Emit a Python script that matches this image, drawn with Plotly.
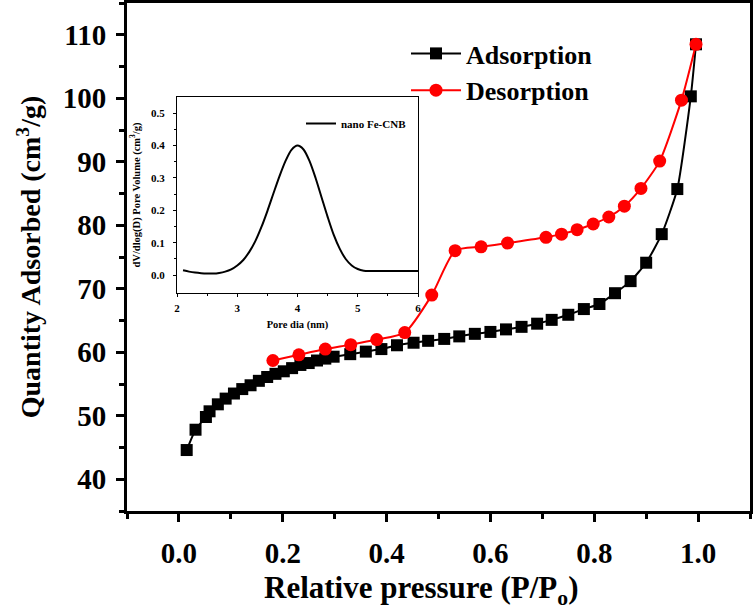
import plotly.graph_objects as go

# Main isotherm data
ads_p = [0.015, 0.032, 0.052, 0.059, 0.075, 0.090, 0.106, 0.122, 0.138, 0.154, 0.170, 0.186,
         0.202, 0.218, 0.234, 0.250, 0.266, 0.282, 0.298, 0.330, 0.360, 0.390, 0.420, 0.452,
         0.480, 0.511, 0.540, 0.570, 0.600, 0.630, 0.660, 0.690, 0.718, 0.750, 0.780, 0.810,
         0.840, 0.870, 0.900, 0.930, 0.960, 0.986, 0.996]
ads_q = [44.6, 47.8, 49.8, 50.7, 51.8, 52.7, 53.5, 54.2, 54.8, 55.5, 56.1, 56.6,
         57.0, 57.5, 58.0, 58.3, 58.7, 59.0, 59.3, 59.7, 60.1, 60.5, 61.1, 61.5,
         61.8, 62.1, 62.5, 62.9, 63.2, 63.6, 64.0, 64.5, 65.1, 65.9, 66.8, 67.6,
         69.3, 71.2, 74.1, 78.6, 85.7, 100.3, 108.5]

des_p = [0.181, 0.231, 0.282, 0.331, 0.381, 0.435, 0.487, 0.532, 0.582, 0.633, 0.707,
         0.737, 0.767, 0.798, 0.828, 0.858, 0.890, 0.926, 0.968, 0.996]
des_q = [58.7, 59.6, 60.5, 61.2, 62.0, 63.1, 69.0, 76.0, 76.6, 77.2, 78.1,
         78.6, 79.3, 80.2, 81.3, 83.0, 85.8, 90.1, 99.7, 108.5]

# Inset pore size distribution
pore_d = [2.1, 2.2, 2.3, 2.4, 2.5, 2.6, 2.7, 2.8, 2.9, 3.0, 3.1, 3.2, 3.3, 3.4, 3.5, 3.6,
          3.7, 3.8, 3.9, 4.0, 4.1, 4.2, 4.3, 4.4, 4.5, 4.6, 4.7, 4.8, 4.9, 5.0, 5.1, 5.2, 6.0]
pore_v = [0.015, 0.011, 0.008, 0.006, 0.005, 0.005, 0.007, 0.011, 0.018, 0.030, 0.047,
          0.072, 0.105, 0.148, 0.198, 0.252, 0.305, 0.352, 0.387, 0.400, 0.388, 0.352,
          0.300, 0.240, 0.180, 0.125, 0.082, 0.050, 0.030, 0.019, 0.014, 0.013, 0.013]

x_ticks = [0.0, 0.2, 0.4, 0.6, 0.8, 1.0]
y_ticks = [40, 50, 60, 70, 80, 90, 100, 110]
inset_x_ticks = [2, 3, 4, 5, 6]
inset_y_ticks = [0.0, 0.1, 0.2, 0.3, 0.4, 0.5]

FONT = "Liberation Serif"

fig = go.Figure()
fig.add_trace(go.Scatter(
    x=ads_p, y=ads_q, name="Adsorption", mode="lines+markers",
    line=dict(color="black", width=2, shape="spline", smoothing=0.5),
    marker=dict(symbol="square", size=12, color="black"),
    legend="legend"))
fig.add_trace(go.Scatter(
    x=des_p, y=des_q, name="Desorption", mode="lines+markers",
    line=dict(color="#ff0000", width=2, shape="spline", smoothing=0.6),
    marker=dict(symbol="circle", size=13, color="#ff0000"),
    legend="legend"))
fig.add_trace(go.Scatter(
    x=pore_d, y=pore_v, name="nano Fe-CNB", mode="lines",
    line=dict(color="black", width=2, shape="spline", smoothing=0.8),
    xaxis="x2", yaxis="y2", legend="legend2"))

W, H = 756, 615
ml, mr, mt, mb = 127, 6, 3, 104
pw, ph = W - ml - mr, H - mt - mb

def px_x(px):
    return (px - ml) / pw

def px_y(py):
    return (H - mb - py) / ph

fig.update_layout(
    width=W, height=H,
    margin=dict(l=ml, r=mr, t=mt, b=mb, autoexpand=False),
    paper_bgcolor="white", plot_bgcolor="white",
    font=dict(family=FONT, color="black"),
    xaxis=dict(
        range=[-0.1, 1.1], tickvals=x_ticks, ticktext=[f"{v:.1f}" for v in x_ticks],
        showgrid=False, zeroline=False, showline=True, linewidth=3, linecolor="black",
        mirror=True, ticks="outside", ticklen=8, tickwidth=3, tickcolor="black",
        minor=dict(tickvals=[-0.1, 0.1, 0.3, 0.5, 0.7, 0.9, 1.1], ticks="outside",
                   ticklen=5, tickwidth=3, tickcolor="black"),
        tickfont=dict(size=29, family=FONT, weight="bold"),
        ticklabelstandoff=6, automargin=False,
    ),
    yaxis=dict(
        range=[35, 115], tickvals=y_ticks,
        showgrid=False, zeroline=False, showline=True, linewidth=3, linecolor="black",
        mirror=True, ticks="outside", ticklen=8, tickwidth=3, tickcolor="black",
        minor=dict(tickvals=[35, 45, 55, 65, 75, 85, 95, 105, 115], ticks="outside",
                   ticklen=5, tickwidth=3, tickcolor="black"),
        tickfont=dict(size=29, family=FONT, weight="bold"), automargin=False,
        ticklabelstandoff=4,
        title=dict(text="Quantity Adsorbed (cm<sup>3</sup>/g)",
                   font=dict(size=28, family=FONT, weight="bold"), standoff=14),
    ),
    xaxis2=dict(
        domain=[px_x(177), px_x(418)], anchor="y2",
        range=[2, 6], tickvals=inset_x_ticks,
        showgrid=False, zeroline=False, showline=True, linewidth=1, linecolor="black",
        mirror=True, ticks="outside", ticklen=3, tickwidth=1, tickcolor="black",
        minor=dict(tickvals=[2.5, 3.5, 4.5, 5.5], ticks="outside", ticklen=2,
                   tickwidth=1, tickcolor="black"),
        tickfont=dict(size=11, family=FONT, weight="bold"), automargin=False,
        ticklabelstandoff=2,
        title=dict(text="Pore dia (nm)", font=dict(size=10.5, family=FONT, weight="bold"),
                   standoff=7),
    ),
    yaxis2=dict(
        domain=[px_y(293), px_y(97)], anchor="x2",
        range=[-0.055, 0.55], tickvals=inset_y_ticks,
        ticktext=[f"{v:.1f}" for v in inset_y_ticks],
        showgrid=False, zeroline=False, showline=True, linewidth=1, linecolor="black",
        mirror=True, ticks="outside", ticklen=3, tickwidth=1, tickcolor="black",
        minor=dict(tickvals=[0.05, 0.15, 0.25, 0.35, 0.45], ticks="outside", ticklen=2,
                   tickwidth=1, tickcolor="black"),
        tickfont=dict(size=11, family=FONT, weight="bold"), automargin=False,
        ticklabelstandoff=6,
        title=dict(text="dV/dlog(D) Pore Volume (cm<sup>3</sup>/g)",
                   font=dict(size=10.5, family=FONT, weight="bold"), standoff=8),
    ),
    legend=dict(
        x=px_x(406), y=px_y(30), xanchor="left", yanchor="top",
        bgcolor="rgba(0,0,0,0)", borderwidth=0,
        font=dict(size=26, family=FONT, weight="bold"),
        tracegroupgap=0, itemwidth=50,
    ),
    legend2=dict(
        x=px_x(301), y=px_y(109), xanchor="left", yanchor="top",
        bgcolor="rgba(0,0,0,0)", borderwidth=0,
        font=dict(size=11, family=FONT, weight="bold"),
        itemwidth=30,
    ),
    annotations=[dict(
        text="Relative pressure (P/P<sub>o</sub>)", xref="paper", yref="paper",
        x=px_x(421), y=px_y(590), xanchor="center", yanchor="middle", showarrow=False,
        font=dict(size=31, family=FONT, weight="bold", color="black"),
    )],
    showlegend=True,
)

fig.write_html("out.html", post_script="document.body.style.margin='0';",
               config={"displayModeBar": False})
